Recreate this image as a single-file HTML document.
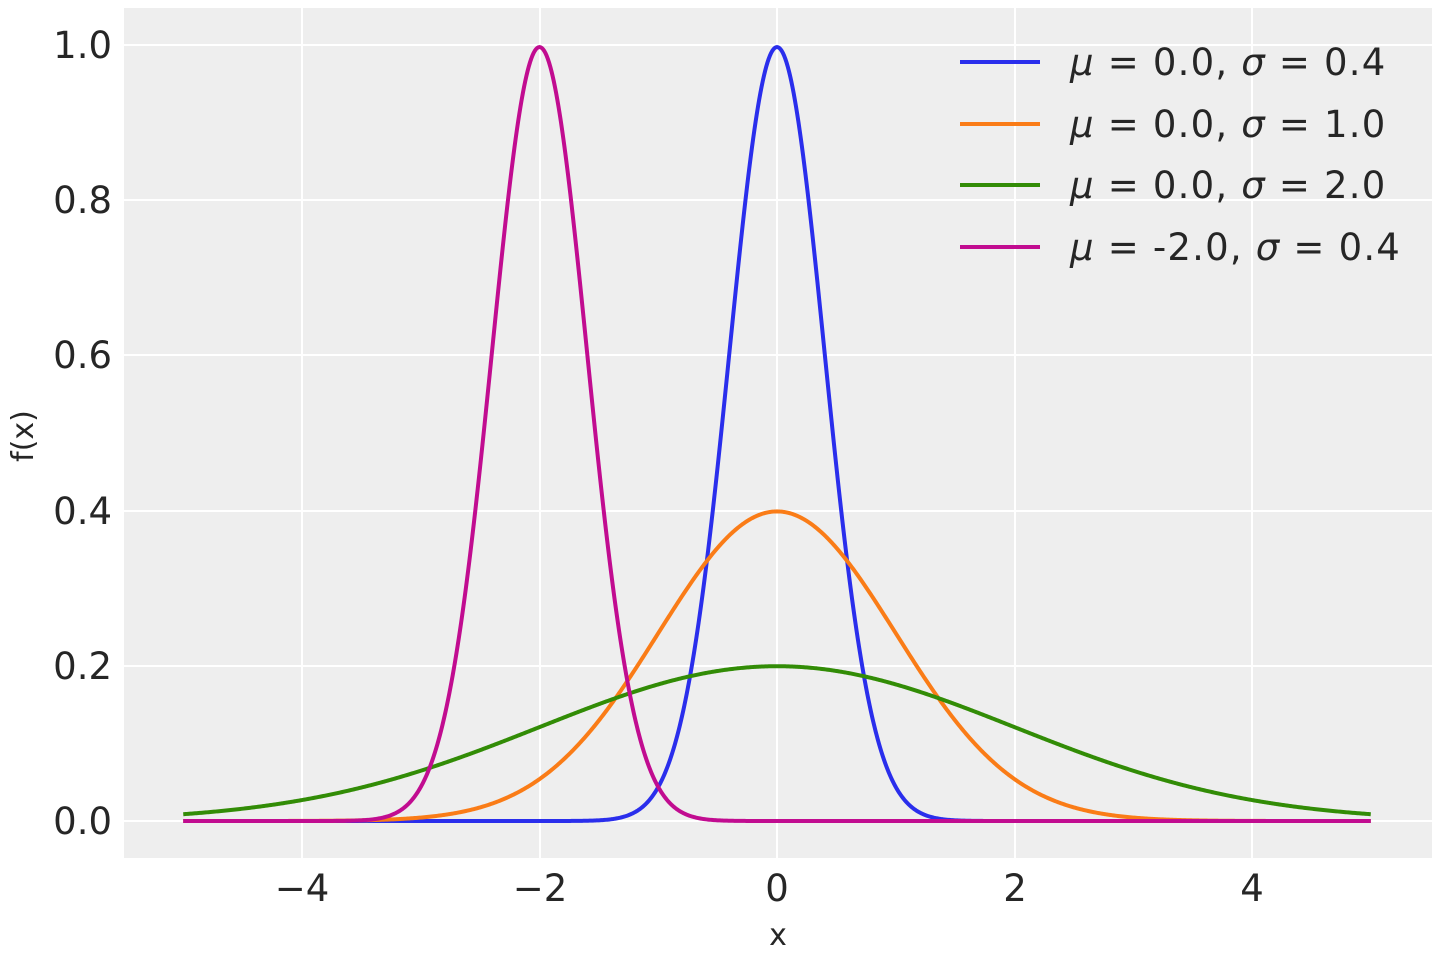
<!DOCTYPE html>
<html><head><meta charset="utf-8">
<style>
html,body{margin:0;padding:0;background:#fff;}
svg{display:block;font-family:"DejaVu Sans","Liberation Sans",sans-serif;}
</style></head>
<body>
<svg id="s" width="1440" height="960" viewBox="0 0 1440 960" xmlns="http://www.w3.org/2000/svg">
<rect x="0" y="0" width="1440" height="960" fill="#ffffff"/>
<rect x="124" y="8" width="1308" height="850" fill="#eeeeee"/>
<g stroke="#ffffff" stroke-width="2">
<line x1="302" y1="8" x2="302" y2="858"/>
<line x1="540" y1="8" x2="540" y2="858"/>
<line x1="777" y1="8" x2="777" y2="858"/>
<line x1="1015" y1="8" x2="1015" y2="858"/>
<line x1="1252" y1="8" x2="1252" y2="858"/>
<line x1="124" y1="821" x2="1432" y2="821"/>
<line x1="124" y1="666" x2="1432" y2="666"/>
<line x1="124" y1="511" x2="1432" y2="511"/>
<line x1="124" y1="355" x2="1432" y2="355"/>
<line x1="124" y1="200" x2="1432" y2="200"/>
<line x1="124" y1="45" x2="1432" y2="45"/>
</g>
<g id="curves" fill="none" stroke-width="4" stroke-linejoin="round"></g>
<g font-size="37" fill="#262626" text-anchor="end">
<text x="112" y="834">0.0</text>
<text x="112" y="679">0.2</text>
<text x="112" y="524">0.4</text>
<text x="112" y="368">0.6</text>
<text x="112" y="213">0.8</text>
<text x="112" y="58">1.0</text>
</g>
<g font-size="37" fill="#262626" text-anchor="middle">
<text x="302" y="901">−4</text>
<text x="540" y="901">−2</text>
<text x="777" y="901">0</text>
<text x="1015" y="901">2</text>
<text x="1252" y="901">4</text>
</g>
<text x="778" y="945" font-size="30" fill="#262626" text-anchor="middle">x</text>
<text transform="translate(33,436) rotate(-90)" font-size="30" fill="#262626" text-anchor="middle">f(x)</text>
<g stroke-width="4">
<line x1="960" y1="62" x2="1040" y2="62" stroke="#2a2eec"/>
<line x1="960" y1="124" x2="1040" y2="124" stroke="#fa7c17"/>
<line x1="960" y1="185" x2="1040" y2="185" stroke="#328c06"/>
<line x1="960" y1="247" x2="1040" y2="247" stroke="#c10c90"/>
</g>
<g font-size="37" fill="#262626" letter-spacing="1.2">
<text x="1070" y="75"><tspan font-style="italic">μ</tspan> = 0.0, <tspan font-style="italic">σ</tspan> = 0.4</text>
<text x="1070" y="137"><tspan font-style="italic">μ</tspan> = 0.0, <tspan font-style="italic">σ</tspan> = 1.0</text>
<text x="1070" y="198"><tspan font-style="italic">μ</tspan> = 0.0, <tspan font-style="italic">σ</tspan> = 2.0</text>
<text x="1070" y="260"><tspan font-style="italic">μ</tspan> = -2.0, <tspan font-style="italic">σ</tspan> = 0.4</text>
</g>
</svg>
<script>
(function(){
var g=document.getElementById('curves');
var ser=[[0,0.4,'#2a2eec'],[0,1,'#fa7c17'],[0,2,'#328c06'],[-2,0.4,'#c10c90']];
ser.forEach(function(s){
 var d='';
 for(var i=0;i<=1000;i++){
  var x=-5+10*i/1000;
  var y=Math.exp(-0.5*Math.pow((x-s[0])/s[1],2))/(s[1]*Math.sqrt(2*Math.PI));
  var px=777+x*118.75, py=821-y*776;
  d+=(i?'L':'M')+px.toFixed(2)+' '+py.toFixed(2);
 }
 var p=document.createElementNS('http://www.w3.org/2000/svg','path');
 p.setAttribute('d',d);p.setAttribute('stroke',s[2]);
 g.appendChild(p);
});
})();
</script>
</body></html>
